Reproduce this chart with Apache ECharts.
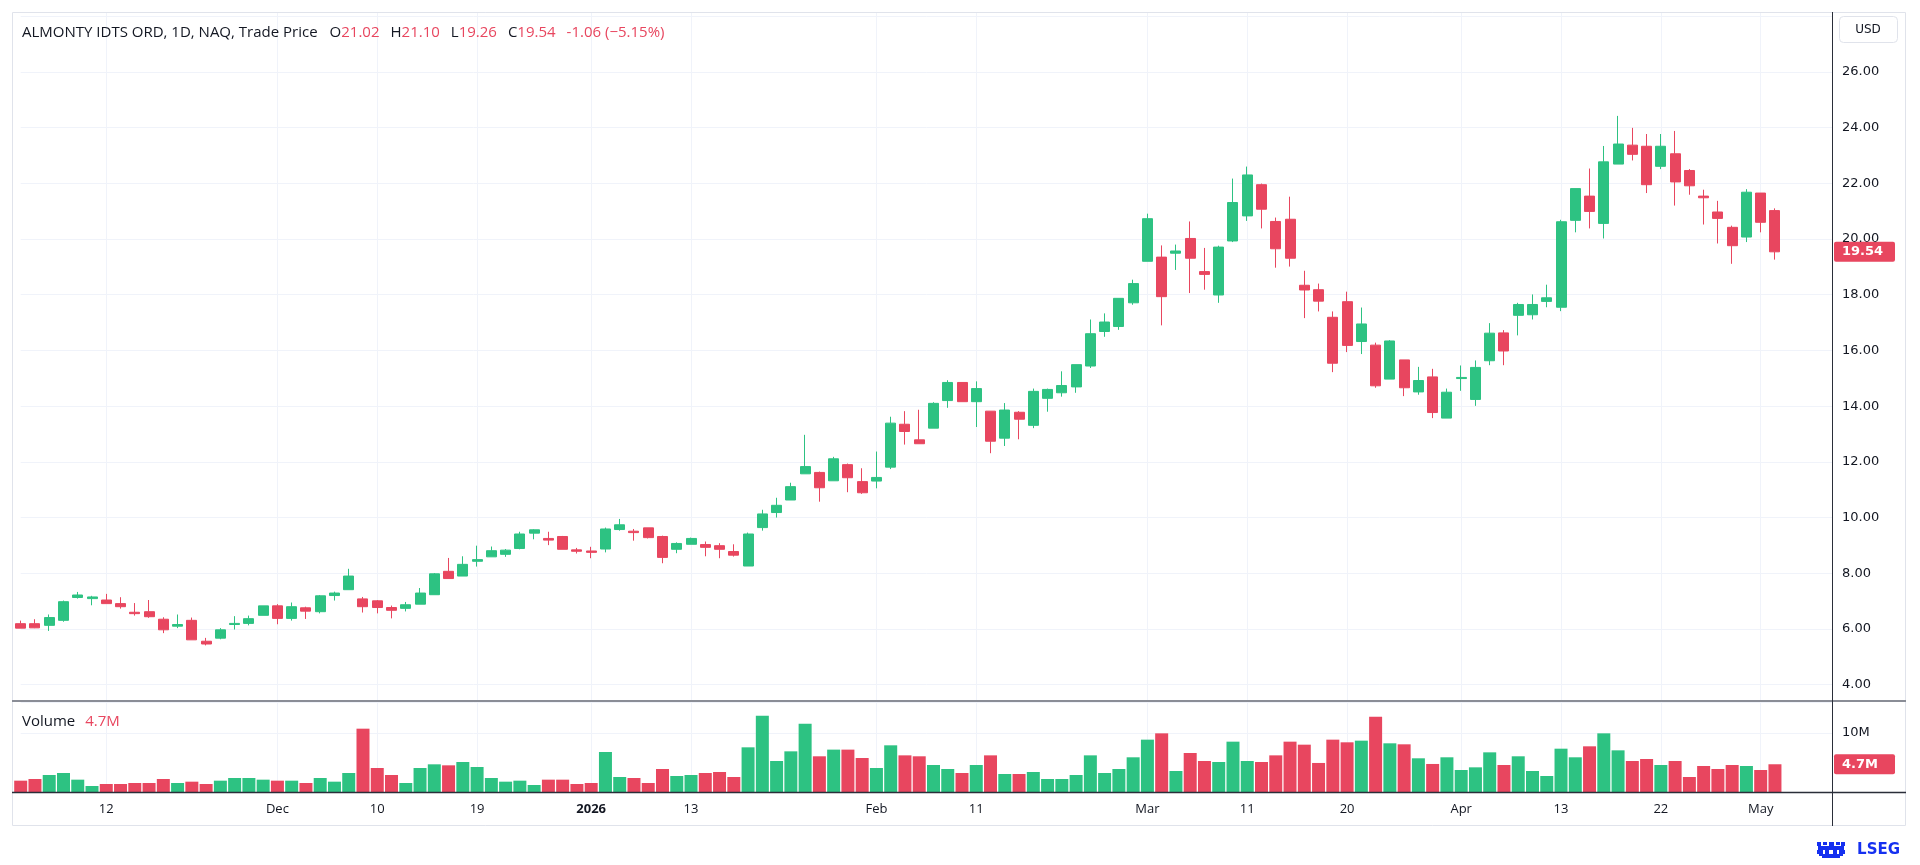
<!DOCTYPE html>
<html>
<head>
<meta charset="utf-8">
<title>ALMONTY IDTS ORD</title>
<script src="https://cdn.jsdelivr.net/npm/echarts@6/dist/echarts.min.js"></script>
<style>
  html, body { margin: 0; padding: 0; background: #fff; }
  #chart { width: 1920px; height: 865px; }
</style>
</head>
<body>
<div id="chart"></div>
<script>
// trading days shown on the chart
const dates = [
  '2025-11-04', '2025-11-05', '2025-11-06', '2025-11-07', '2025-11-10', '2025-11-11', '2025-11-12', '2025-11-13',
  '2025-11-14', '2025-11-17', '2025-11-18', '2025-11-19', '2025-11-20', '2025-11-21', '2025-11-24', '2025-11-25',
  '2025-11-26', '2025-11-28',
  '2025-12-01', '2025-12-02', '2025-12-03', '2025-12-04', '2025-12-05', '2025-12-08', '2025-12-09', '2025-12-10',
  '2025-12-11', '2025-12-12', '2025-12-15', '2025-12-16', '2025-12-17', '2025-12-18', '2025-12-19', '2025-12-22',
  '2025-12-23', '2025-12-24', '2025-12-26', '2025-12-29', '2025-12-30', '2025-12-31',
  '2026-01-02', '2026-01-05', '2026-01-06', '2026-01-07', '2026-01-08', '2026-01-09', '2026-01-12', '2026-01-13',
  '2026-01-14', '2026-01-15', '2026-01-16', '2026-01-20', '2026-01-21', '2026-01-22', '2026-01-23', '2026-01-26',
  '2026-01-27', '2026-01-28', '2026-01-29', '2026-01-30',
  '2026-02-02', '2026-02-03', '2026-02-04', '2026-02-05', '2026-02-06', '2026-02-09', '2026-02-10', '2026-02-11',
  '2026-02-12', '2026-02-13', '2026-02-17', '2026-02-18', '2026-02-19', '2026-02-20', '2026-02-23', '2026-02-24',
  '2026-02-25', '2026-02-26', '2026-02-27',
  '2026-03-02', '2026-03-03', '2026-03-04', '2026-03-05', '2026-03-06', '2026-03-09', '2026-03-10', '2026-03-11',
  '2026-03-12', '2026-03-13', '2026-03-16', '2026-03-17', '2026-03-18', '2026-03-19', '2026-03-20', '2026-03-23',
  '2026-03-24', '2026-03-25', '2026-03-26', '2026-03-27', '2026-03-30', '2026-03-31',
  '2026-04-01', '2026-04-02', '2026-04-06', '2026-04-07', '2026-04-08', '2026-04-09', '2026-04-10', '2026-04-13',
  '2026-04-14', '2026-04-15', '2026-04-16', '2026-04-17', '2026-04-20', '2026-04-21', '2026-04-22', '2026-04-23',
  '2026-04-24', '2026-04-27', '2026-04-28', '2026-04-29', '2026-04-30',
  '2026-05-01', '2026-05-04'
];

// empty days kept on the right of the last candle
const padDates = ['2026-05-05', '2026-05-06', '2026-05-07', '2026-05-08'];

const opens = [
  6.19, 6.19, 6.13, 6.31, 7.13, 7.09, 7.04, 6.91, 6.60, 6.62, 6.35, 6.10, 6.31, 5.56, 5.67, 6.16, 6.20, 6.49,
  6.83, 6.38, 6.76, 6.62, 7.20, 7.41, 7.08, 7.01, 6.77, 6.74, 6.89, 7.23, 8.07, 7.90, 8.43, 8.59, 8.68, 8.89,
  9.44, 9.25, 9.32, 8.84,
  8.80, 8.87, 9.57, 9.51, 9.63, 9.32, 8.86, 9.04, 9.03, 8.99, 8.78, 8.26, 9.64, 10.18, 10.63, 11.57, 11.62, 11.32,
  11.90, 11.29,
  11.31, 11.81, 13.35, 12.79, 13.21, 14.20, 14.85, 14.16, 13.82, 12.85, 13.78, 13.31, 14.28, 14.48, 14.69, 15.44,
  16.68, 16.86, 17.71,
  19.20, 19.35, 19.49, 20.02, 18.83, 17.99, 19.93, 20.83, 21.95, 20.63, 20.71, 18.34, 18.18, 17.19, 17.75, 16.32,
  16.19, 14.97, 15.66, 14.51, 15.05, 13.57,
  14.99, 14.24, 15.63, 16.63, 17.26, 17.28, 17.76, 17.55, 20.67, 21.54, 20.56, 22.69, 23.37, 23.33, 22.61, 23.06,
  22.46, 21.54, 20.97, 20.42, 20.07,
  21.65, 21.02
];

const highs = [
  6.30, 6.35, 6.52, 7.02, 7.33, 7.19, 7.26, 7.14, 6.93, 7.04, 6.42, 6.52, 6.41, 5.68, 6.03, 6.46, 6.48, 6.83,
  6.89, 6.95, 6.80, 7.22, 7.34, 8.16, 7.15, 7.04, 6.84, 6.97, 7.47, 8.01, 8.55, 8.61, 8.99, 8.96, 8.87, 9.49,
  9.58, 9.49, 9.34, 8.91,
  8.95, 9.64, 9.95, 9.59, 9.63, 9.35, 9.11, 9.28, 9.14, 9.08, 9.04, 9.46, 10.28, 10.71, 11.25, 12.97, 11.65, 12.18,
  11.94, 11.77,
  12.37, 13.62, 13.82, 13.87, 14.14, 14.93, 14.85, 14.89, 13.82, 14.11, 13.82, 14.63, 14.63, 15.25, 15.49, 17.11,
  17.33, 17.87, 18.54,
  20.91, 19.77, 19.80, 20.63, 19.68, 19.76, 22.17, 22.60, 21.99, 20.77, 21.52, 18.86, 18.40, 17.40, 18.11, 17.54,
  16.28, 16.37, 15.66, 15.41, 15.34, 14.63,
  15.46, 15.64, 16.98, 16.73, 17.71, 18.01, 18.36, 20.69, 21.81, 22.53, 23.34, 24.42, 23.99, 23.77, 23.77, 23.88,
  22.51, 21.77, 21.37, 20.48, 21.79,
  21.65, 21.10
];

const lows = [
  6.03, 6.03, 5.93, 6.26, 7.09, 6.85, 6.91, 6.73, 6.48, 6.40, 5.85, 6.03, 5.61, 5.41, 5.63, 5.98, 6.13, 6.49,
  6.17, 6.30, 6.36, 6.56, 7.02, 7.41, 6.59, 6.56, 6.38, 6.63, 6.89, 7.23, 7.81, 7.90, 8.24, 8.59, 8.59, 8.86,
  9.22, 9.01, 8.86, 8.71,
  8.54, 8.75, 9.53, 9.17, 9.25, 8.36, 8.72, 9.04, 8.61, 8.54, 8.60, 8.26, 9.53, 10.00, 10.63, 11.57, 10.57, 11.32,
  10.91, 10.85,
  11.05, 11.74, 12.62, 12.65, 13.21, 13.94, 14.16, 13.25, 12.31, 12.57, 12.81, 13.21, 13.80, 14.34, 14.48, 15.37,
  16.49, 16.74, 17.64,
  19.20, 16.90, 18.89, 18.06, 18.18, 17.71, 19.89, 20.65, 20.38, 18.97, 19.01, 17.16, 17.40, 15.22, 15.94, 15.87,
  14.66, 14.97, 14.36, 14.41, 13.57, 13.57,
  14.55, 14.01, 15.47, 15.47, 16.54, 17.11, 17.55, 17.41, 20.24, 20.38, 20.02, 22.69, 22.82, 21.65, 22.51, 21.20,
  21.59, 20.52, 19.84, 19.11, 19.89,
  20.24, 19.26
];

const closes = [
  6.03, 6.04, 6.41, 6.98, 7.22, 7.15, 6.91, 6.80, 6.55, 6.44, 5.97, 6.16, 5.61, 5.46, 5.97, 6.20, 6.37, 6.83,
  6.38, 6.80, 6.64, 7.19, 7.29, 7.90, 6.80, 6.77, 6.67, 6.87, 7.29, 7.98, 7.81, 8.32, 8.49, 8.81, 8.83, 9.41,
  9.56, 9.19, 8.86, 8.79,
  8.75, 9.59, 9.74, 9.46, 9.28, 8.57, 9.07, 9.25, 8.93, 8.86, 8.65, 9.41, 10.13, 10.44, 11.11, 11.83, 11.07, 12.11,
  11.43, 10.89,
  11.44, 13.39, 13.09, 12.65, 14.10, 14.85, 14.16, 14.63, 12.74, 13.86, 13.53, 14.53, 14.60, 14.74, 15.49, 16.60,
  17.02, 17.87, 18.40,
  20.73, 17.93, 19.57, 19.31, 18.73, 19.71, 21.31, 22.30, 21.07, 19.65, 19.31, 18.17, 17.77, 15.54, 16.18, 16.95,
  14.73, 16.34, 14.66, 14.92, 13.77, 14.50,
  15.03, 15.39, 16.62, 15.98, 17.65, 17.65, 17.89, 20.62, 21.81, 20.99, 22.77, 23.41, 23.04, 21.95, 23.33, 22.05,
  21.91, 21.48, 20.74, 19.76, 21.68,
  20.60, 19.54
];

// volume in millions of shares
const volumes = [
  1.92, 2.20, 2.88, 3.22, 2.09, 1.02, 1.36, 1.36, 1.53, 1.53, 2.20, 1.53, 1.75, 1.36, 1.92, 2.37, 2.37, 2.09,
  1.92, 1.92, 1.53, 2.37, 1.75, 3.22, 10.73, 4.07, 2.88, 1.53, 4.07, 4.69, 4.52, 5.08, 4.24, 2.37, 1.75, 1.92,
  1.19, 2.09, 2.09, 1.36,
  1.53, 6.78, 2.54, 2.37, 1.53, 3.90, 2.71, 2.88, 3.22, 3.39, 2.54, 7.57, 12.94, 5.25, 6.89, 11.58, 6.05, 7.18,
  7.18, 5.76,
  4.07, 7.91, 6.21, 6.05, 4.58, 3.90, 3.22, 4.58, 6.21, 3.05, 3.05, 3.39, 2.20, 2.20, 2.88, 6.21,
  3.22, 3.90, 5.88,
  8.87, 9.94, 3.56, 6.61, 5.25, 5.08, 8.53, 5.25, 5.08, 6.21, 8.53, 8.02, 4.92, 8.87, 8.42, 8.70,
  12.77, 8.25, 8.08, 5.71, 4.75, 5.88,
  3.73, 4.18, 6.72, 4.58, 6.05, 3.56, 2.71, 7.34, 5.88, 7.74, 9.94, 7.06, 5.25, 5.59, 4.58, 5.25,
  2.54, 4.41, 3.90, 4.58, 4.41,
  3.73, 4.70
];

// time axis labels
const tickLabels = {
  '2025-11-12': '12', '2025-12-01': 'Dec', '2025-12-10': '10', '2025-12-19': '19', '2026-01-02': '2026',
  '2026-01-13': '13', '2026-02-02': 'Feb', '2026-02-11': '11', '2026-03-02': 'Mar', '2026-03-11': '11',
  '2026-03-20': '20', '2026-04-01': 'Apr', '2026-04-13': '13', '2026-04-22': '22', '2026-05-01': 'May'
};
const yearLabels = ['2026'];
const priceTicks = [4, 6, 8, 10, 12, 14, 16, 18, 20, 22, 24, 26];
const volumeTicks = [10];

const UP = '#2dc282';
const DOWN = '#e8465f';
const TEXT = '#131722';
const GRID = '#f0f3fa';
const FONT = 'Roboto, "Noto Sans", sans-serif';
const HEAD_FONT = '"Open Sans", Roboto, sans-serif';
const SCALE_FONT = '"DejaVu Sans", sans-serif';
const LOGO = '#1530f0';

const categories = dates.concat(padDates);

function isTick(index) {
  return tickLabels[categories[index]] !== undefined;
}

function initChartOption() {
  const candles = dates.map((d, i) => [opens[i], closes[i], lows[i], highs[i]]);
  const volumeBars = dates.map((d, i) => ({
    value: volumes[i],
    itemStyle: { color: closes[i] >= opens[i] ? UP : DOWN }
  }));

  return {
    animation: false,
    backgroundColor: '#ffffff',
    textStyle: { fontFamily: FONT },
    grid: [
      { left: 20.7, right: 88, top: 12, height: 688 },
      { left: 20.7, right: 88, top: 702, height: 90 }
    ],
    xAxis: [
      {
        type: 'category',
        gridIndex: 0,
        data: categories,
        boundaryGap: false,
        axisLine: { show: false },
        axisTick: { show: false },
        axisLabel: { show: false },
        splitLine: { show: true, interval: (index) => isTick(index), lineStyle: { color: GRID, width: 1 } }
      },
      {
        type: 'category',
        gridIndex: 1,
        data: categories,
        boundaryGap: false,
        axisLine: { show: false },
        axisTick: { show: false },
        axisLabel: {
          interval: (index) => isTick(index),
          margin: 11,
          fontSize: 13,
          fontFamily: HEAD_FONT,
          color: TEXT,
          formatter: (value) => {
            const label = tickLabels[value];
            if (!label) return '';
            return yearLabels.includes(label) ? '{b|' + label + '}' : label;
          },
          rich: { b: { fontWeight: 'bold', fontSize: 13, fontFamily: HEAD_FONT, color: TEXT } }
        },
        splitLine: { show: true, interval: (index) => isTick(index), lineStyle: { color: GRID, width: 1 } }
      }
    ],
    yAxis: [
      {
        type: 'value',
        gridIndex: 0,
        position: 'right',
        min: 3.45,
        max: 28.15,
        splitNumber: 12,
        axisLine: { show: false },
        axisTick: { show: false },
        axisLabel: {
          margin: 10,
          fontSize: 13,
          fontFamily: SCALE_FONT,
          color: TEXT,
          formatter: (v) => priceTicks.some(t => Math.abs(t - v) < 1e-6) ? v.toFixed(2) : ''
        },
        splitLine: { lineStyle: { color: GRID, width: 1 } }
      },
      {
        type: 'value',
        gridIndex: 1,
        position: 'right',
        min: 0,
        max: 15.25,
        interval: 10,
        axisLine: { show: false },
        axisTick: { show: false },
        axisLabel: {
          margin: 10,
          fontSize: 13,
          fontFamily: SCALE_FONT,
          color: TEXT,
          formatter: (v) => volumeTicks.includes(v) ? v + 'M' : ''
        },
        splitLine: { lineStyle: { color: GRID, width: 1 } }
      }
    ],
    series: [
      {
        name: 'Price',
        type: 'candlestick',
        xAxisIndex: 0,
        yAxisIndex: 0,
        barWidth: 10.5,
        clip: false,
        data: candles,
        itemStyle: {
          color: UP,
          color0: DOWN,
          borderColor: UP,
          borderColor0: DOWN,
          borderWidth: 1
        }
      },
      {
        name: 'Volume',
        type: 'bar',
        xAxisIndex: 1,
        yAxisIndex: 1,
        barWidth: 13,
        clip: false,
        data: volumeBars
      }
    ]
  };
}

function labelBox(text, y, color) {
  return {
    type: 'group',
    z: 100,
    children: [
      { type: 'rect', shape: { x: 1834, y: y - 10, width: 61, height: 20, r: 2 }, style: { fill: color } },
      {
        type: 'text',
        style: {
          x: 1842, y: y, text: text, fill: '#ffffff', fontSize: 13, fontWeight: 'bold',
          fontFamily: SCALE_FONT, verticalAlign: 'middle'
        }
      }
    ]
  };
}

// small crest next to the LSEG word
function logoIcon() {
  const cells = [
    [0, 0, 4, 4], [6, 0, 4, 3], [12, 0, 5, 4], [19, 0, 4, 3], [24, 0, 4, 4],
    [1, 4, 26, 4], [0, 8, 6, 4], [8, 8, 4, 5], [16, 8, 4, 5], [22, 8, 6, 4],
    [2, 12, 24, 2], [5, 14, 18, 2]
  ];
  return {
    type: 'group', x: 1817, y: 842, z: 100,
    children: cells.map(c => ({ type: 'rect', shape: { x: c[0], y: c[1], width: c[2], height: c[3] }, style: { fill: LOGO } }))
  };
}

function buildGraphics(priceY, volumeY) {
  const last = dates.length - 1;
  const change = closes[last] - closes[last - 1];
  const pct = change / closes[last - 1] * 100;
  const sign = change < 0 ? '-' : '+';
  const header = '{t|ALMONTY IDTS ORD, 1D, NAQ, Trade Price}{k|O}{v|' + opens[last].toFixed(2) + '}' +
    '{k|H}{v|' + highs[last].toFixed(2) + '}{k|L}{v|' + lows[last].toFixed(2) + '}' +
    '{k|C}{v|' + closes[last].toFixed(2) + '}{v|' + sign + Math.abs(change).toFixed(2) +
    ' (' + (change < 0 ? '\u2212' : '+') + Math.abs(pct).toFixed(2) + '%)}';

  return [
    // outer frame
    { type: 'rect', z: 90, shape: { x: 12.5, y: 12.5, width: 1893, height: 813 }, style: { fill: null, stroke: '#e0e3eb', lineWidth: 1 } },
    // pane separator
    { type: 'line', z: 90, shape: { x1: 12, y1: 701, x2: 1906, y2: 701 }, style: { stroke: '#8a8d96', lineWidth: 2 } },
    // time axis line
    { type: 'line', z: 90, shape: { x1: 12, y1: 792.5, x2: 1906, y2: 792.5 }, style: { stroke: '#2a2e39', lineWidth: 1.5 } },
    // price scale border
    { type: 'line', z: 90, shape: { x1: 1832.5, y1: 12, x2: 1832.5, y2: 826 }, style: { stroke: '#2a2e39', lineWidth: 1 } },
    {
      type: 'text', z: 100,
      style: {
        x: 22, y: 33, text: header, verticalAlign: 'middle', fontFamily: HEAD_FONT, fontSize: 15,
        rich: {
          t: { fill: TEXT, fontSize: 15, fontFamily: HEAD_FONT, padding: [0, 12, 0, 0] },
          k: { fill: TEXT, fontSize: 15, fontFamily: HEAD_FONT },
          v: { fill: DOWN, fontSize: 15, fontFamily: HEAD_FONT, padding: [0, 11, 0, 0] }
        }
      }
    },
    {
      type: 'text', z: 100,
      style: {
        x: 22, y: 722, text: '{k|Volume}{v|' + volumes[last].toFixed(1) + 'M}', verticalAlign: 'middle',
        fontFamily: HEAD_FONT, fontSize: 15,
        rich: {
          k: { fill: TEXT, fontSize: 15, fontFamily: HEAD_FONT, padding: [0, 10, 0, 0] },
          v: { fill: DOWN, fontSize: 15, fontFamily: HEAD_FONT }
        }
      }
    },
    // currency box
    { type: 'rect', z: 100, shape: { x: 1839.5, y: 16.5, width: 58, height: 26, r: 4 }, style: { fill: '#ffffff', stroke: '#e0e3eb', lineWidth: 1 } },
    {
      type: 'text', z: 101,
      style: { x: 1868, y: 30, text: 'USD', align: 'center', verticalAlign: 'middle', fill: TEXT, fontSize: 12, fontFamily: SCALE_FONT }
    },
    labelBox(closes[last].toFixed(2), priceY, DOWN),
    labelBox(volumes[last].toFixed(1) + 'M', volumeY, DOWN),
    logoIcon(),
    {
      type: 'text', z: 100,
      style: { x: 1900, y: 850, text: 'LSEG', align: 'right', verticalAlign: 'middle', fill: LOGO, fontSize: 15, fontWeight: 'bold', fontFamily: SCALE_FONT }
    }
  ];
}

const chart = echarts.init(document.getElementById('chart'), null, { renderer: 'canvas' });
chart.setOption(initChartOption());

const lastIndex = dates.length - 1;
const priceY = chart.convertToPixel({ xAxisIndex: 0, yAxisIndex: 0 }, [lastIndex, closes[lastIndex]])[1];
const volumeY = chart.convertToPixel({ xAxisIndex: 1, yAxisIndex: 1 }, [lastIndex, volumes[lastIndex]])[1];
chart.setOption({ graphic: buildGraphics(priceY, volumeY) });
</script>
</body>
</html>
